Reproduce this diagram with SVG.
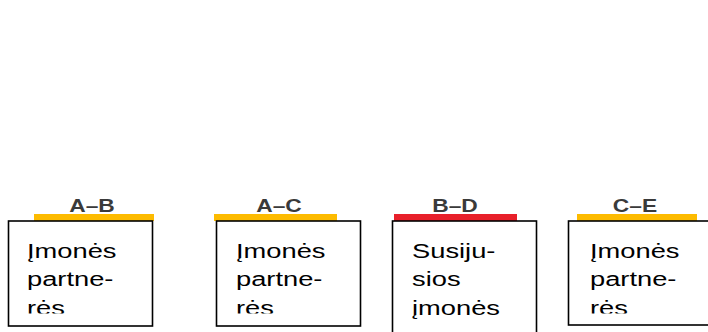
<svg xmlns="http://www.w3.org/2000/svg" width="708" height="332" viewBox="0 0 708 332">
<style>
.box{fill:#fff;stroke:#000;stroke-width:1.6}
.lbl{font-family:"Liberation Sans",Arial,sans-serif;font-weight:bold;font-size:19px;fill:#3a3a3a;text-anchor:middle}
.txt{font-family:"Liberation Sans",Arial,sans-serif;font-size:21px;fill:#000}
.y{fill:#FDBB00}
.r{fill:#E8202A}
</style>
<defs>
<clipPath id="c1"><rect x="0" y="222" width="708" height="91.5"/></clipPath>
</defs>
<rect width="708" height="332" fill="#fff"/>
<g id="connectors"></g>
<g id="n1">
<rect class="y" x="34" y="214" width="120" height="7"/>
<text class="lbl" transform="translate(92,212) scale(1.2,1)">A–B</text>
<rect class="box" x="8.5" y="221" width="144" height="105"/>
<g clip-path="url(#c1)" class="txt">
<text transform="translate(27,258) scale(1.3,1)">Įmonės</text>
<text transform="translate(27,286) scale(1.3,1)">partne-</text>
<text transform="translate(27,315) scale(1.3,1)">rės</text>
</g>
</g>
<g id="n2">
<rect class="y" x="214" y="214" width="123" height="7"/>
<text class="lbl" transform="translate(279,212) scale(1.2,1)">A–C</text>
<rect class="box" x="216.5" y="221" width="144" height="105"/>
<g clip-path="url(#c1)" class="txt">
<text transform="translate(236,258) scale(1.3,1)">Įmonės</text>
<text transform="translate(236,286) scale(1.3,1)">partne-</text>
<text transform="translate(236,315) scale(1.3,1)">rės</text>
</g>
</g>
<g id="n3">
<rect class="r" x="394" y="214" width="123" height="7"/>
<text class="lbl" transform="translate(455,212) scale(1.2,1)">B–D</text>
<rect class="box" x="392.5" y="221" width="144" height="120"/>
<g class="txt">
<text transform="translate(412,258) scale(1.3,1)">Susiju-</text>
<text transform="translate(412,286) scale(1.3,1)">sios</text>
<text transform="translate(412,315) scale(1.3,1)">įmonės</text>
</g>
</g>
<g id="n4">
<rect class="y" x="577" y="214" width="120" height="7"/>
<text class="lbl" transform="translate(635,212) scale(1.2,1)">C–E</text>
<rect class="box" x="568.5" y="221" width="150" height="104"/>
<g clip-path="url(#c1)" class="txt">
<text transform="translate(590,258) scale(1.3,1)">Įmonės</text>
<text transform="translate(590,286) scale(1.3,1)">partne-</text>
<text transform="translate(590,315) scale(1.3,1)">rės</text>
</g>
</g>
</svg>
